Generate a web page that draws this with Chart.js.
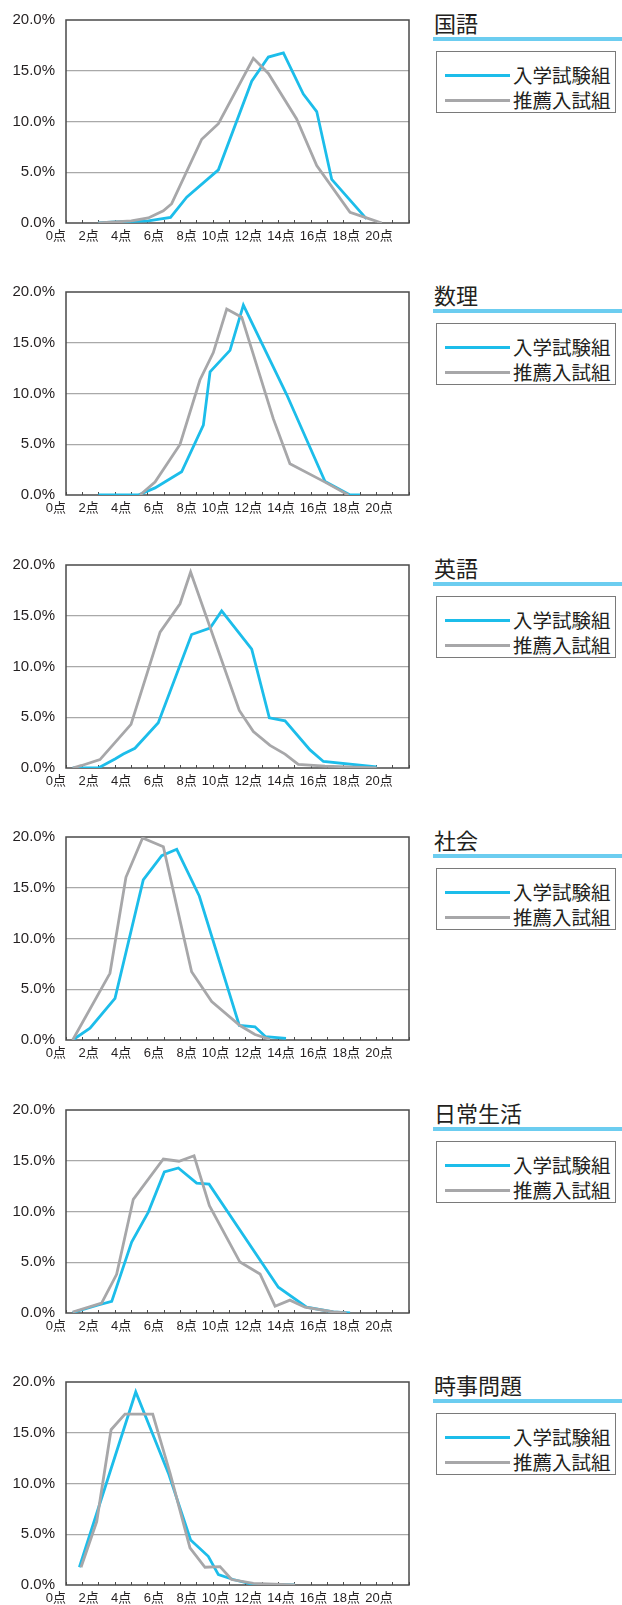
<!DOCTYPE html>
<html lang="ja">
<head>
<meta charset="utf-8">
<title>科目別 得点分布</title>
<script src="https://cdn.jsdelivr.net/npm/chart.js@4.4.1/dist/chart.umd.min.js"></script>
<style>
  html, body { margin: 0; padding: 0; background: #fff; }
  #page { position: relative; width: 622px; height: 1605px; overflow: hidden; background: #fff; }
  .panel { position: absolute; left: 0; width: 622px; height: 272px; }
  .panel canvas { position: absolute; left: 0; top: 0; }
  .title { position: absolute; left: 434px; top: 11px; font: 22px/22px "Noto Sans CJK JP", sans-serif; color: #231f20; white-space: nowrap; }
  .rule { position: absolute; left: 433px; top: 37px; width: 189px; height: 4px; background: #6ccdf0; }
  .legend { position: absolute; left: 436px; top: 51px; width: 180px; height: 62px; box-sizing: border-box; border: 1px solid #7a7a7a; }
  .legend .swatch { position: absolute; left: 8px; width: 65px; height: 2.5px; }
  .legend .label { position: absolute; left: 76px; font: 19.5px/20px "Noto Sans CJK JP", sans-serif; color: #231f20; white-space: nowrap; }
</style>
</head>
<body>
<div id="page"></div>
<script>
// Subjects, series names and axis labels
const subjects = ['国語', '数理', '英語', '社会', '日常生活', '時事問題'];
const seriesNames = ['入学試験組', '推薦入試組'];
const xTickLabels = ['0点', '2点', '4点', '6点', '8点', '10点', '12点', '14点', '16点', '18点', '20点'];
const yTickLabels = ['0.0%', '5.0%', '10.0%', '15.0%', '20.0%'];

// Score distribution, [score position, share of students in %]
const kokugoEntrance = [[1.98,0],[3.0,0.1],[5.04,0.2],[6.4,0.55],[7.39,2.54],[9.33,5.24],[11.37,13.97],[12.39,16.35],[13.31,16.76],[14.53,12.7],[15.35,10.98],[16.27,4.29],[18.4,0.41]];
const kokugoRecommend = [[1.98,0],[4.0,0.2],[5.04,0.5],[5.96,1.2],[6.47,1.9],[8.31,8.25],[9.33,9.78],[11.47,16.22],[12.39,14.73],[14.12,10.25],[15.35,5.65],[17.39,1.05],[18.4,0.5],[19.33,0]];

const suriEntrance = [[1.98,0],[4.43,0],[5.45,0.7],[7.08,2.29],[8.41,6.89],[8.82,12.13],[10.04,14.25],[10.86,18.7],[13.51,9.9],[15.86,1.33],[17.39,0],[18.0,0]];
const suriRecommend = [[4.53,0],[5.45,1.27],[6.98,4.98],[8.2,11.33],[9.02,14.03],[9.84,18.32],[10.76,17.52],[12.69,7.52],[13.71,3.08],[15.86,1.27],[17.29,0]];

const eigoEntrance = [[0.41,0],[1.98,0],[3.0,0.89],[3.51,1.37],[4.22,1.94],[5.65,4.46],[7.69,13.15],[8.82,13.79],[9.53,15.48],[11.37,11.72],[12.45,4.94],[13.41,4.65],[14.94,1.78],[15.76,0.64],[19.02,0.1]];
const eigoRecommend = [[0.41,0],[0.96,0.25],[2.08,0.83],[3.98,4.3],[5.76,13.38],[6.98,16.18],[7.63,19.3],[10.61,5.67],[11.47,3.6],[12.49,2.23],[13.41,1.37],[14.22,0.35],[15.86,0.19],[19.02,0]];

const shakaiEntrance = [[0.41,0],[1.47,1.17],[3.0,4.1],[4.73,15.78],[5.86,18.16],[6.78,18.79],[8.16,14.19],[10.61,1.43],[11.57,1.3],[12.22,0.32],[13.47,0.16]];
const shakaiRecommend = [[0.41,0],[2.69,6.57],[3.67,16.03],[4.69,19.9],[5.96,19.05],[7.69,6.73],[8.92,3.78],[10.65,1.43],[11.57,0.54],[12.49,0.06]];

const nichijoEntrance = [[0.41,0.05],[1.98,0.79],[2.8,1.14],[4.02,6.98],[5.04,9.94],[6.02,13.9],[6.88,14.29],[8.0,12.79],[8.76,12.7],[13.0,2.54],[14.73,0.57],[16.37,0.1],[17.39,0]];
const nichijoRecommend = [[0.41,0.1],[2.18,0.98],[3.1,3.81],[4.12,11.2],[5.96,15.17],[6.92,14.95],[7.84,15.49],[8.78,10.57],[10.65,5.02],[11.88,3.84],[12.8,0.67],[13.71,1.27],[14.63,0.57],[16.37,0.1],[17.18,0]];

const jijiEntrance = [[0.82,1.75],[4.27,19.02],[6.27,11.02],[7.63,4.44],[8.71,2.83],[9.33,1.02],[10.24,0.54],[11.47,0.05],[14.02,0]];
const jijiRecommend = [[0.92,1.75],[1.88,6.25],[2.76,15.3],[3.61,16.83],[5.31,16.83],[6.37,11.02],[7.59,3.65],[8.51,1.75],[9.43,1.81],[10.14,0.54],[11.47,0.16],[14.02,0]];

const entranceSeries = [kokugoEntrance, suriEntrance, eigoEntrance, shakaiEntrance, nichijoEntrance, jijiEntrance];
const recommendSeries = [kokugoRecommend, suriRecommend, eigoRecommend, shakaiRecommend, nichijoRecommend, jijiRecommend];

const BLUE = '#1cbdea';
const GRAY = '#a7a7a9';
const FRAME = '#4a4a4a';
const PANEL_STEP = 272.46;

// Dark frame around the plotting area, drawn under the data lines
const plotFrame = {
  id: 'plotFrame',
  beforeDatasetsDraw(chart) {
    const { ctx, chartArea: a } = chart;
    ctx.save();
    ctx.strokeStyle = FRAME;
    ctx.lineWidth = 1.5;
    ctx.strokeRect(a.left, a.top, a.right - a.left, a.bottom - a.top);
    ctx.restore();
  }
};

const toPoints = pairs => pairs.map(([x, y]) => ({ x, y }));
const page = document.getElementById('page');

subjects.forEach((name, i) => {
  const panel = document.createElement('div');
  panel.className = 'panel';
  panel.style.top = Math.round(i * PANEL_STEP) + 'px';

  const canvas = document.createElement('canvas');
  canvas.width = 420;
  canvas.height = 272;
  panel.appendChild(canvas);

  const title = document.createElement('div');
  title.className = 'title';
  title.textContent = name;
  panel.appendChild(title);

  const rule = document.createElement('div');
  rule.className = 'rule';
  panel.appendChild(rule);

  const legend = document.createElement('div');
  legend.className = 'legend';
  [[BLUE, 22, 13], [GRAY, 47, 38]].forEach(([color, lineTop, textTop], k) => {
    const sw = document.createElement('div');
    sw.className = 'swatch';
    sw.style.top = lineTop + 'px';
    sw.style.background = color;
    legend.appendChild(sw);
    const lb = document.createElement('div');
    lb.className = 'label';
    lb.style.top = textTop + 'px';
    lb.textContent = seriesNames[k];
    legend.appendChild(lb);
  });
  panel.appendChild(legend);
  page.appendChild(panel);

  new Chart(canvas, {
    type: 'line',
    data: {
      datasets: [
        { label: seriesNames[0], data: toPoints(entranceSeries[i]), borderColor: BLUE, borderWidth: 2.8, pointRadius: 0, tension: 0, order: 1 },
        { label: seriesNames[1], data: toPoints(recommendSeries[i]), borderColor: GRAY, borderWidth: 2.8, pointRadius: 0, tension: 0, order: 0 }
      ]
    },
    options: {
      responsive: false,
      animation: false,
      devicePixelRatio: 1,
      layout: { padding: { top: 13, right: 11, left: 0, bottom: 0 } },
      plugins: { legend: { display: false }, tooltip: { enabled: false } },
      scales: {
        x: {
          type: 'linear', min: 0, max: 21,
          afterFit: s => { s.height = 49; },
          border: { display: false },
          grid: { drawOnChartArea: false, tickLength: -3, tickColor: FRAME, tickWidth: 1 },
          ticks: {
            stepSize: 1, autoSkip: false, maxRotation: 0, minRotation: 0, align: 'end', padding: 9,
            color: '#231f20',
            font: { family: '"Liberation Sans", Arial, "Noto Sans CJK JP", sans-serif', size: 13 },
            callback: v => (v % 2 === 0 && v <= 20) ? xTickLabels[v / 2] : ''
          }
        },
        y: {
          min: 0, max: 20,
          afterFit: s => { s.width = 66; },
          border: { display: false },
          grid: {
            drawTicks: false, lineWidth: 1.2,
            color: c => (c.tick.value === 0 || c.tick.value === 20) ? 'rgba(0,0,0,0)' : '#a9a9a9'
          },
          ticks: {
            stepSize: 5, padding: 11, color: '#231f20',
            font: { family: '"Liberation Sans", Arial, sans-serif', size: 15 },
            callback: v => yTickLabels[Math.round(v / 5)]
          }
        }
      }
    },
    plugins: [plotFrame]
  });
});
</script>
</body>
</html>
